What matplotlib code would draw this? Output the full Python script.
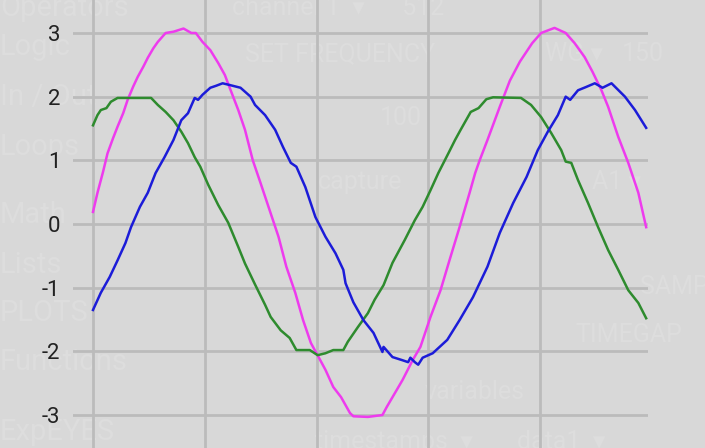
import matplotlib
matplotlib.use("Agg")
import matplotlib.pyplot as plt

# time axis in grid units
mag_t = [0.00, 0.04, 0.09, 0.13, 0.18, 0.22, 0.27, 0.31, 0.36, 0.40,
         0.45, 0.49, 0.54, 0.58, 0.65, 0.72, 0.81, 0.88, 0.92, 0.98,
         1.05, 1.12, 1.18, 1.21, 1.30, 1.36, 1.43, 1.50, 1.58, 1.66,
         1.73, 1.81, 1.88, 1.95, 2.00, 2.08, 2.15, 2.22, 2.30, 2.33,
         2.46, 2.59, 2.63, 2.68, 2.77, 2.86, 2.93, 3.02, 3.11, 3.19,
         3.28, 3.37, 3.42, 3.46, 3.53, 3.64, 3.73, 3.82, 3.93, 4.01,
         4.13, 4.23, 4.31, 4.40, 4.47, 4.55, 4.61, 4.70, 4.79, 4.88, 4.95]
mag_v = [0.19, 0.49, 0.82, 1.11, 1.35, 1.53, 1.74, 1.95, 2.16, 2.31,
         2.47, 2.61, 2.76, 2.86, 3.00, 3.02, 3.07, 3.00, 3.00, 2.86,
         2.73, 2.53, 2.34, 2.20, 1.79, 1.48, 1.00, 0.64, 0.22, -0.20,
         -0.67, -1.08, -1.51, -1.87, -2.03, -2.29, -2.56, -2.72, -2.97, -3.02,
         -3.03, -3.00, -2.87, -2.72, -2.45, -2.14, -1.93, -1.46, -1.04, -0.57,
         -0.05, 0.49, 0.80, 1.00, 1.32, 1.84, 2.25, 2.55, 2.84, 3.00,
         3.08, 3.00, 2.84, 2.62, 2.39, 2.10, 1.84, 1.37, 0.96, 0.49, -0.05]

grn_t = [0.00, 0.04, 0.07, 0.12, 0.16, 0.22, 0.52, 0.58, 0.65, 0.72,
         0.79, 0.85, 0.91, 0.96, 1.03, 1.12, 1.21, 1.30, 1.36, 1.45,
         1.54, 1.59, 1.68, 1.76, 1.82, 1.94, 2.01, 2.08, 2.15, 2.24,
         2.28, 2.37, 2.46, 2.52, 2.60, 2.68, 2.79, 2.88, 2.95, 3.02,
         3.09, 3.18, 3.24, 3.29, 3.38, 3.45, 3.52, 3.58, 3.83, 3.92,
         4.01, 4.10, 4.19, 4.23, 4.28, 4.34, 4.43, 4.52, 4.61, 4.70,
         4.79, 4.88, 4.95]
grn_v = [1.55, 1.71, 1.79, 1.82, 1.92, 1.98, 1.98, 1.87, 1.76, 1.63,
         1.45, 1.27, 1.05, 0.90, 0.62, 0.30, 0.02, -0.36, -0.62, -0.95,
         -1.27, -1.46, -1.67, -1.79, -1.98, -1.98, -2.06, -2.03, -1.98, -1.98,
         -1.85, -1.62, -1.40, -1.19, -0.96, -0.61, -0.25, 0.06, 0.27, 0.53,
         0.80, 1.11, 1.32, 1.48, 1.76, 1.82, 1.96, 1.99, 1.98, 1.87,
         1.68, 1.43, 1.16, 0.98, 0.96, 0.69, 0.33, -0.05, -0.41, -0.72,
         -1.04, -1.24, -1.48]

blu_t = [0.00, 0.07, 0.15, 0.22, 0.29, 0.34, 0.42, 0.49, 0.56, 0.64,
         0.72, 0.79, 0.85, 0.91, 0.94, 0.98, 1.05, 1.10, 1.16, 1.23,
         1.32, 1.41, 1.45, 1.54, 1.63, 1.70, 1.77, 1.82, 1.90, 1.99,
         2.08, 2.17, 2.24, 2.26, 2.33, 2.42, 2.51, 2.59, 2.60, 2.61,
         2.68, 2.77, 2.82, 2.84, 2.88, 2.91, 2.95, 3.04, 3.17, 3.28,
         3.40, 3.53, 3.64, 3.76, 3.88, 3.98, 4.07, 4.16, 4.23, 4.27,
         4.34, 4.41, 4.49, 4.56, 4.64, 4.68, 4.76, 4.85, 4.95]
blu_v = [-1.35, -1.08, -0.83, -0.57, -0.30, -0.05, 0.27, 0.49, 0.80, 1.05,
         1.32, 1.63, 1.74, 1.98, 1.95, 2.03, 2.14, 2.17, 2.21, 2.18,
         2.14, 2.00, 1.87, 1.71, 1.48, 1.21, 0.96, 0.90, 0.58, 0.11,
         -0.20, -0.46, -0.72, -0.93, -1.23, -1.51, -1.71, -2.01, -1.93, -1.95,
         -2.09, -2.14, -2.17, -2.10, -2.17, -2.21, -2.10, -2.03, -1.82, -1.51,
         -1.15, -0.67, -0.14, 0.33, 0.74, 1.16, 1.45, 1.71, 2.00, 1.95,
         2.10, 2.15, 2.21, 2.14, 2.21, 2.14, 2.00, 1.79, 1.51]

yticks = [-3, -2, -1, 0, 1, 2, 3]
xticks = [0, 1, 2, 3, 4]

# faded app UI behind the plot
menu = ["Operators", "Logic", "In / Out", "Loops", "Math", "Lists",
        "PLOTS", "Functions", "ExpEYES"]
menu_y = [8, 47, 97, 147, 215, 265, 313, 362, 432]
ui_text = [("channel 1  \u25be      512", 232, 8), ("SET FREQUENCY", 245, 54),
           ("WG \u25be", 545, 54), ("150", 622, 54), ("100", 380, 118),
           ("capture", 318, 182), ("A1 \u25be", 592, 182), ("SAMPL", 640, 287),
           ("TIMEGAP", 575, 335), ("variables", 425, 392),
           ("timestamps  \u25be", 315, 442), ("data1  \u25be", 517, 442)]

W, H = 705, 448
fig = plt.figure(figsize=(W / 100, H / 100), dpi=100, facecolor="#d8d8d8")
plt.rcParams["font.family"] = ["Roboto", "DejaVu Sans"]

for name, y in zip(menu, menu_y):
    fig.text(0 / W, 1 - y / H, name, fontsize=21, color="#dddddd",
             va="center", ha="left", zorder=-1)
for name, x, y in ui_text:
    fig.text(x / W, 1 - y / H, name, fontsize=18, color="#dddddd",
             va="center", ha="left", zorder=-1)

ax = fig.add_axes([73 / W, 0, 575 / W, 1])
ax.set_facecolor("none")

ax.plot(mag_t, mag_v, color="#ee3bee", lw=1.8, zorder=3)
ax.plot(grn_t, grn_v, color="#2e8b2e", lw=1.8, zorder=3)
ax.plot(blu_t, blu_v, color="#1c1cd8", lw=1.8, zorder=3)

ax.set_xlim(-20 / 111.75, 555 / 111.75)
ax.set_ylim(-224 / 63.67, 224 / 63.67)
ax.set_xticks(xticks)
ax.set_yticks(yticks)
ax.set_xticklabels([])
ax.set_yticklabels([str(v) for v in yticks])
ax.grid(True, color="#bbbbbb", lw=2)
ax.tick_params(axis="both", length=0)
ax.tick_params(axis="y", pad=9, labelsize=16, labelcolor="#222222")
for s in ax.spines.values():
    s.set_visible(False)

fig.savefig("out.png", dpi=100, facecolor=fig.get_facecolor())
